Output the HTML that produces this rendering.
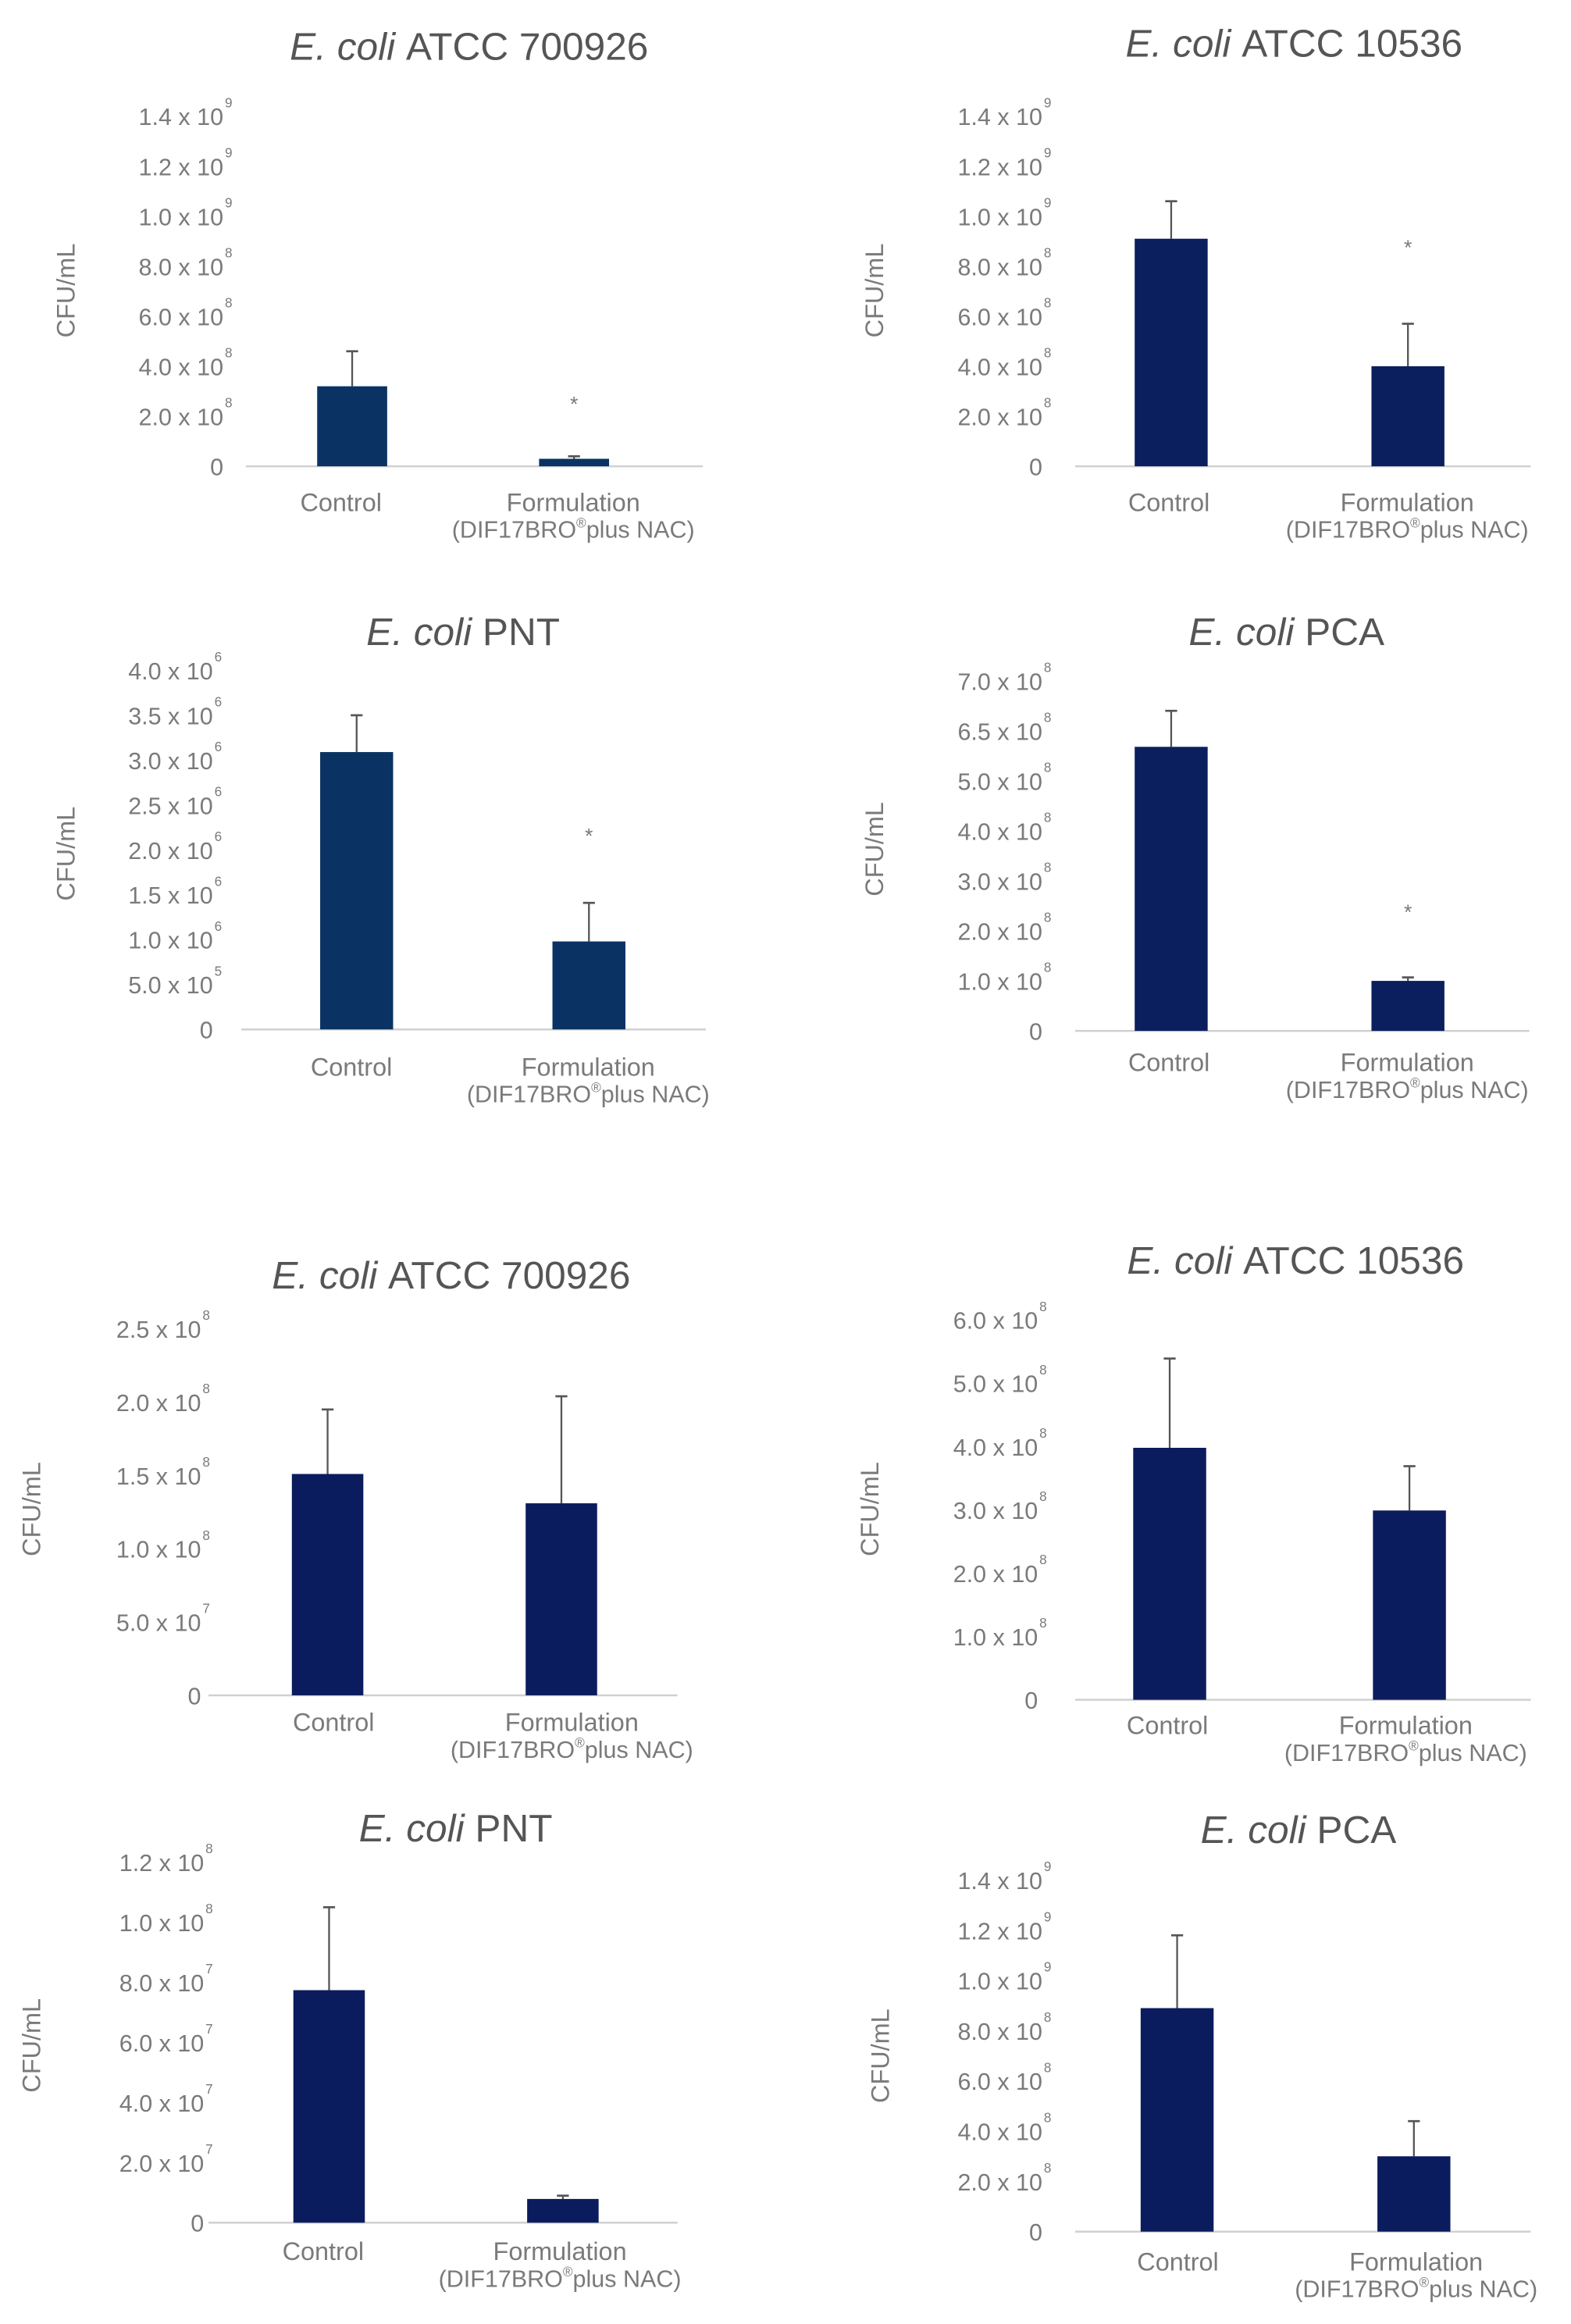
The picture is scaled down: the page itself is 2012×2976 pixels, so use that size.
<!DOCTYPE html>
<html><head><meta charset="utf-8"><style>
html,body{margin:0;padding:0;background:#fff}
svg{display:block}
text{font-family:"Liberation Sans",sans-serif;fill:#7a7a7a}
</style></head><body>
<svg id="fig" width="2012" height="2976" viewBox="0 0 1055 1560" preserveAspectRatio="none" xmlns="http://www.w3.org/2000/svg"></svg>
<script>
const categories = ["Control", "Formulation"];
const titles = ["ATCC 700926","ATCC 10536","PNT","PCA","ATCC 700926","ATCC 10536","PNT","PCA"];
const meansA = [3.2e8, 0.3e8];   const errA = [4.6e8, 0.4e8];
const meansB = [9.1e8, 4.0e8];   const errB = [10.6e8, 5.7e8];
const meansC = [3.09e6, 0.98e6]; const errC = [3.5e6, 1.41e6];
const meansD = [5.68e8, 1.0e8];  const errD = [6.4e8, 1.07e8];
const meansE = [1.51e8, 1.31e8]; const errE = [1.95e8, 2.04e8];
const meansF = [3.98e8, 2.99e8]; const errF = [5.39e8, 3.69e8];
const meansG = [7.74e7, 0.79e7]; const errG = [10.5e7, 0.9e7];
const meansH = [0.89e9, 0.30e9]; const errH = [1.18e9, 0.44e9];
const ticksA = [0,2e8,4e8,6e8,8e8,10e8,12e8,14e8];
const tickLabA = ["0","2.0 x 10|8","4.0 x 10|8","6.0 x 10|8","8.0 x 10|8","1.0 x 10|9","1.2 x 10|9","1.4 x 10|9"];
const ticksC = [0,0.5e6,1e6,1.5e6,2e6,2.5e6,3e6,3.5e6,4e6];
const tickLabC = ["0","5.0 x 10|5","1.0 x 10|6","1.5 x 10|6","2.0 x 10|6","2.5 x 10|6","3.0 x 10|6","3.5 x 10|6","4.0 x 10|6"];
const ticksD = [0,1e8,2e8,3e8,4e8,5e8,6e8,7e8];
const tickLabD = ["0","1.0 x 10|8","2.0 x 10|8","3.0 x 10|8","4.0 x 10|8","5.0 x 10|8","6.5 x 10|8","7.0 x 10|8"];
const ticksE = [0,0.5e8,1e8,1.5e8,2e8,2.5e8];
const tickLabE = ["0","5.0 x 10|7","1.0 x 10|8","1.5 x 10|8","2.0 x 10|8","2.5 x 10|8"];
const ticksF = [0,1e8,2e8,3e8,4e8,5e8,6e8];
const tickLabF = ["0","1.0 x 10|8","2.0 x 10|8","3.0 x 10|8","4.0 x 10|8","5.0 x 10|8","6.0 x 10|8"];
const ticksG = [0,2e7,4e7,6e7,8e7,10e7,12e7];
const tickLabG = ["0","2.0 x 10|7","4.0 x 10|7","6.0 x 10|7","8.0 x 10|7","1.0 x 10|8","1.2 x 10|8"];
const sigA = [false,true], sigB=[false,true], sigC=[false,true], sigD=[false,true];
const sigNone = [false,false];

const panels = [
 {id:"a",means:meansA,err:errA,ticks:ticksA,labs:tickLabA,sig:sigA,tx:315,ty:40,y0:313,yTop:78,ax0:165,ax1:472,bx:[213,362],bw:47,lx:150,ylx:50,yly:195,cx:[229,385],cy:343,col:"#0a3363",starY:270},
 {id:"b",means:meansB,err:errB,ticks:ticksA,labs:tickLabA,sig:sigB,tx:869,ty:38,y0:313,yTop:78,ax0:722,ax1:1028,bx:[762,921],bw:49,lx:700,ylx:593,yly:195,cx:[785,945],cy:343,col:"#0b1f5e",starY:165},
 {id:"c",means:meansC,err:errC,ticks:ticksC,labs:tickLabC,sig:sigC,tx:311,ty:433,y0:691,yTop:450,ax0:162,ax1:474,bx:[215,371],bw:49,lx:143,ylx:50,yly:573,cx:[236,395],cy:722,col:"#0a3363",starY:560},
 {id:"d",means:meansD,err:errD,ticks:ticksD,labs:tickLabD,sig:sigD,tx:864,ty:433,y0:692,yTop:457,ax0:722,ax1:1027,bx:[762,921],bw:49,lx:700,ylx:593,yly:570,cx:[785,945],cy:719,col:"#0b1f5e",starY:611},
 {id:"e",means:meansE,err:errE,ticks:ticksE,labs:tickLabE,sig:sigNone,tx:303,ty:865,y0:1138,yTop:892,ax0:140,ax1:455,bx:[196,353],bw:48,lx:135,ylx:27,yly:1013,cx:[224,384],cy:1162,col:"#0b1c5e"},
 {id:"f",means:meansF,err:errF,ticks:ticksF,labs:tickLabF,sig:sigNone,tx:870,ty:855,y0:1141,yTop:886,ax0:722,ax1:1028,bx:[761,922],bw:49,lx:697,ylx:590,yly:1013,cx:[784,944],cy:1164,col:"#0b1c5e"},
 {id:"g",means:meansG,err:errG,ticks:ticksG,labs:tickLabG,sig:sigNone,tx:306,ty:1236,y0:1492,yTop:1250,ax0:140,ax1:455,bx:[197,354],bw:48,lx:137,ylx:27,yly:1373,cx:[217,376],cy:1517,col:"#0b1c5e"},
 {id:"h",means:meansH,err:errH,ticks:ticksA,labs:tickLabA,sig:sigNone,tx:872,ty:1237,y0:1498,yTop:1262,ax0:722,ax1:1028,bx:[766,925],bw:49,lx:700,ylx:597,yly:1380,cx:[791,951],cy:1524,col:"#0b1c5e"}
];
const NS="http://www.w3.org/2000/svg";
const svg=document.getElementById("fig");
function mk(tag,attrs,parent){const e=document.createElementNS(NS,tag);for(const k in attrs)e.setAttribute(k,attrs[k]);parent.appendChild(e);return e;}
panels.forEach((p,i)=>{
  const g=mk("g",{},svg);
  
  
  const tmax=p.ticks[p.ticks.length-1];
  const y=v=>p.y0-(v/tmax)*(p.y0-p.yTop);
  const t=mk("text",{x:p.tx,y:p.ty,"text-anchor":"middle","font-size":26},g);
  t.style.fill="#555";
  
  
  const it=mk("tspan",{"font-style":"italic"},t);it.textContent="E. coli ";
  const rt=mk("tspan",{},t);rt.textContent=titles[i];
  const ax=mk("line",{x1:p.ax0,x2:p.ax1,y1:p.y0,y2:p.y0,stroke:"#d0d0d0","stroke-width":1.3},g);
  
  
  p.ticks.forEach((v,k)=>{
    const parts=p.labs[k].split("|");
    const tt=mk("text",{x:p.lx,y:y(v)+6,"text-anchor":"end","font-size":16},g);
    
    
    tt.textContent=parts[0];
    if(parts[1]){const s=mk("text",{x:p.lx+1,y:y(v)-6,"font-size":9},g);
      
      
      s.textContent=parts[1];}
  });
  const yl=mk("text",{x:p.ylx,y:p.yly,"text-anchor":"middle","font-size":17,transform:`rotate(-90 ${p.ylx} ${p.yly})`},g);
  
  
  yl.textContent="CFU/mL";
  p.means.forEach((m,k)=>{
    const x=p.bx[k],cx=x+p.bw/2;
    const el=mk("line",{x1:cx,x2:cx,y1:y(m),y2:y(p.err[k]),stroke:"#555","stroke-width":1.2},g);
    
    
    const cap=mk("line",{x1:cx-4,x2:cx+4,y1:y(p.err[k]),y2:y(p.err[k]),stroke:"#555","stroke-width":1.4},g);
    
    
    const r=mk("rect",{x:x,y:y(m),width:p.bw,height:p.y0-y(m),fill:p.col},g);
    
    
    if(p.sig[k]){const s=mk("text",{x:cx,y:p.starY+6,"text-anchor":"middle","font-size":14},g);
      
      
      s.textContent="*";}
  });
  const c1=mk("text",{x:p.cx[0],y:p.cy,"text-anchor":"middle","font-size":17},g);
  
  
  c1.textContent="Control";
  const c2=mk("text",{x:p.cx[1],y:p.cy,"text-anchor":"middle","font-size":17},g);
  
  
  c2.textContent="Formulation";
  const c3=mk("text",{x:p.cx[1],y:p.cy+18,"text-anchor":"middle","font-size":16},g);
  
  
  const a=mk("tspan",{},c3);a.textContent="(DIF17BRO";
  const b=mk("tspan",{dy:-7,"font-size":9},c3);b.textContent="®";
  const c=mk("tspan",{dy:7},c3);c.textContent="plus NAC)";
});
</script>
</body></html>
